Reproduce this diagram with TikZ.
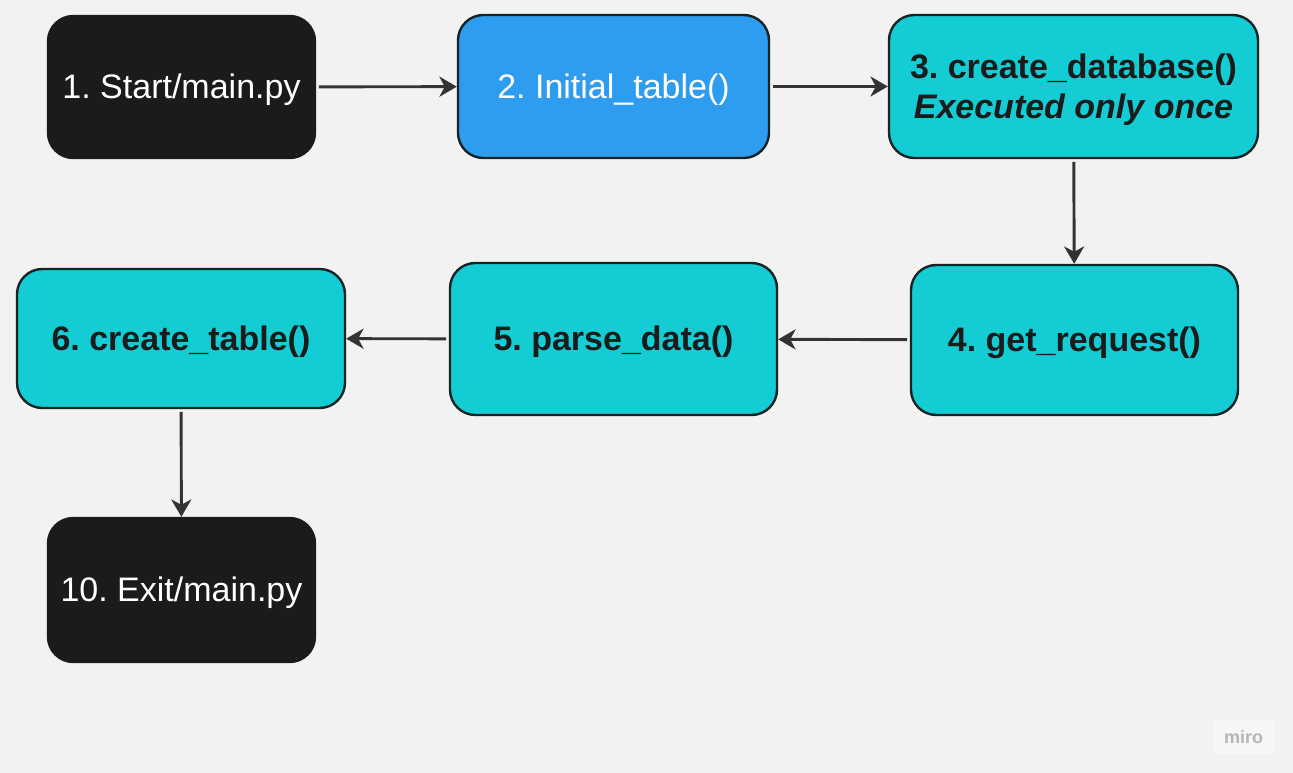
\documentclass[tikz,border=0pt]{standalone}
\usepackage{fontspec}
\setmainfont{Liberation Sans}
\usetikzlibrary{arrows.meta}
\frenchspacing
\definecolor{bgc}{HTML}{F2F2F2}
\definecolor{blk}{HTML}{1B1B1B}
\definecolor{blu}{HTML}{2E9CEF}
\definecolor{cyn}{HTML}{14CDD4}
\definecolor{edg}{HTML}{162426}
\definecolor{arr}{HTML}{333333}
\definecolor{mirobg}{HTML}{F6F6F6}
\definecolor{mirotx}{HTML}{B4B4B4}
\tikzset{
  sz/.style 2 args={minimum width=#1*0.75pt, minimum height=#2*0.75pt},
  box/.style={rectangle, rounded corners=19pt, inner sep=0pt, align=center,
    line width=1.8pt, text depth=0.1em, font=\fontsize{25.5}{30}\selectfont\frenchspacing},
  blackbox/.style={box, fill=blk, draw=blk, text=white},
  bluebox/.style={box, fill=blu, draw=edg, text=white},
  cyanbox/.style={box, fill=cyn, draw=edg, text=blk, font=\fontsize{25.5}{30}\selectfont\bfseries\frenchspacing},
  flow/.style={draw=arr, line width=2.2pt, shorten <=2pt,
    -{Stealth[length=13pt, width=15pt, inset=4pt]}}
}
\begin{document}
\begin{tikzpicture}[x=0.75pt,y=-0.75pt]
\fill[bgc] (0,0) rectangle (1293,773);
\useasboundingbox (0,0) rectangle (1293,773);

\node[blackbox, sz={267}{142}] (n1) at (181.5,87) {1. Start/main.py};
\node[bluebox, sz={311}{143}] (n2) at (613.5,86.5) {2. Initial\_table()};
\node[cyanbox, sz={369}{143}] (n3) at (1073.5,86.5) {3. create\_database()\\\textit{Executed only once}};
\node[cyanbox, sz={327}{150}] (n4) at (1074.5,340) {4. get\_request()};
\node[cyanbox, sz={327}{152}] (n5) at (613.5,339) {5. parse\_data()};
\node[cyanbox, sz={328}{139}] (n6) at (181,338.5) {6. create\_table()};
\node[blackbox, sz={267}{144}] (n10) at (181.5,590) {10. Exit/main.py};

\node[rectangle, fill=mirobg, sz={61}{34}, inner sep=0pt, text=mirotx,
  font=\fontsize{13.5}{16}\selectfont\bfseries] (miro) at (1243.5,737) {miro};

\draw[flow] (n1) -- (n2);
\draw[flow] (n2) -- (n3);
\draw[flow] (n3) -- (n4);
\draw[flow] (n4) -- (n5);
\draw[flow] (n5) -- (n6);
\draw[flow] (n6) -- (n10);
\end{tikzpicture}
\end{document}
